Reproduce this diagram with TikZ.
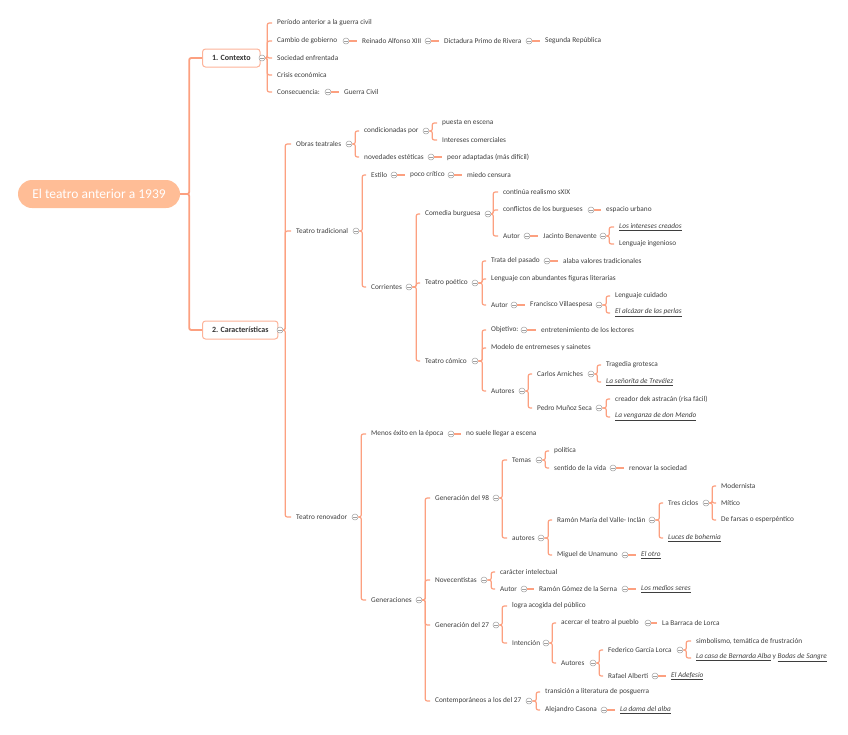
\documentclass[tikz,border=0pt]{standalone}
\usepackage{fontspec}
\setmainfont{Carlito}
\definecolor{linkc}{RGB}{252,160,128}
\definecolor{rootc}{RGB}{255,189,150}
\definecolor{txtc}{RGB}{62,62,62}
\definecolor{foldc}{RGB}{160,160,160}
\newcommand{\obra}[1]{\underline{\textit{#1}}}
\begin{document}
\begin{tikzpicture}[x=1pt,y=-1pt,
		item/.style={anchor=west,inner xsep=5pt,inner ysep=1pt,text=txtc,font=\fontsize{7.3}{9}\selectfont},
		fold/.style={circle,draw=foldc,fill=white,line width=0.5pt,minimum size=6pt,inner sep=0pt,
			path picture={\draw[foldc,line width=0.5pt] ([xshift=-1.8pt]path picture bounding box.center) -- ([xshift=1.8pt]path picture bounding box.center);}},
		link/.style={draw=linkc,line width=1.2pt,rounded corners=2pt},
		trunk/.style={draw=linkc,line width=1.8pt,rounded corners=2pt},
		topic/.style={anchor=west,draw=linkc!80,fill=white,line width=1pt,rounded corners=3pt,minimum height=18pt,inner xsep=9.5pt,text=black!80,font=\fontsize{8}{9}\selectfont\bfseries},
		root/.style={fill=rootc,text=white,rounded corners=14pt,minimum width=162pt,minimum height=28pt,font=\fontsize{13.5}{15}\selectfont}]
		\useasboundingbox (0,0) rectangle (848,734);
		% raiz y temas principales
		\node[root](root) at (99,194) {El teatro anterior a 1939};
		\node[topic](ctx) at (202,58) {1. Contexto};
		\node[fold](ctxf) at (262,58) {};
		\node[topic](car) at (202,330) {2. Características};
		\node[fold](carf) at (280,330) {};
		% contexto
		\node[item](c1) at (272,23) {Período anterior a la guerra civil};
		\node[item](c2) at (272,41) {Cambio de gobierno};
		\node[fold](c2f) at (346,41) {};
		\node[item](c2a) at (357,41) {Reinado Alfonso XIII};
		\node[fold](c2af) at (428,41) {};
		\node[item](c2b) at (439,41) {Dictadura Primo de Rivera};
		\node[fold](c2bf) at (529,41) {};
		\node[item](c2c) at (540,41) {Segunda República};
		\node[item](c3) at (272,58) {Sociedad enfrentada};
		\node[item](c4) at (272,75) {Crisis económica};
		\node[item](c5) at (272,92) {Consecuencia:};
		\node[fold](c5f) at (328,92) {};
		\node[item](c5a) at (339,92) {Guerra Civil};
		% obras teatrales
		\node[item](ob) at (291,144) {Obras teatrales};
		\node[fold](obf) at (349,144) {};
		\node[item](ob1) at (359,131) {condicionadas por};
		\node[fold](ob1f) at (426,131) {};
		\node[item](ob1a) at (437,123) {puesta en escena};
		\node[item](ob1b) at (437,140) {Intereses comerciales};
		\node[item](ob2) at (359,157) {novedades estéticas};
		\node[fold](ob2f) at (431,157) {};
		\node[item](ob2a) at (442,157) {peor adaptadas (más difícil)};
		% teatro tradicional
		\node[item](tt) at (291,231) {Teatro tradicional};
		\node[fold](ttf) at (356,231) {};
		\node[item](es) at (366,175) {Estilo};
		\node[fold](esf) at (394,175) {};
		\node[item](es1) at (405,175) {poco crítico};
		\node[fold](es1f) at (451,175) {};
		\node[item](es2) at (462,175) {miedo censura};
		\node[item](co) at (366,287) {Corrientes};
		\node[fold](cof) at (409,287) {};
		\node[item](cb) at (420,214) {Comedia burguesa};
		\node[fold](cbf) at (488,214) {};
		\node[item](cb1) at (498,192) {continúa realismo sXIX};
		\node[item](cb2) at (498,210) {conflictos de los burgueses};
		\node[fold](cb2f) at (591,210) {};
		\node[item](cb2a) at (601,210) {espacio urbano};
		\node[item](cb3) at (498,236) {Autor};
		\node[fold](cb3f) at (527,236) {};
		\node[item](jb) at (538,236) {Jacinto Benavente};
		\node[fold](jbf) at (603,236) {};
		\node[item](jb1) at (614,227) {\obra{Los intereses creados}};
		\node[item](jb2) at (614,244) {Lenguaje ingenioso};
		\node[item](tp) at (420,283) {Teatro poético};
		\node[fold](tpf) at (475,283) {};
		\node[item](tp1) at (486,261) {Trata del pasado};
		\node[fold](tp1f) at (547,261) {};
		\node[item](tp1a) at (558,261) {alaba valores tradicionales};
		\node[item](tp2) at (486,279) {Lenguaje con abundantes figuras literarias};
		\node[item](tp3) at (486,305) {Autor};
		\node[fold](tp3f) at (514,305) {};
		\node[item](fv) at (525,305) {Francisco Villaespesa};
		\node[fold](fvf) at (599,305) {};
		\node[item](fv1) at (610,296) {Lenguaje cuidado};
		\node[item](fv2) at (610,313) {\obra{El alcázar de las perlas}};
		\node[item](tc) at (420,361) {Teatro cómico};
		\node[fold](tcf) at (475,361) {};
		\node[item](tc1) at (486,330) {Objetivo:};
		\node[fold](tc1f) at (524,330) {};
		\node[item](tc1a) at (536,330) {entretenimiento de los lectores};
		\node[item](tc2) at (486,348) {Modelo de entremeses y sainetes};
		\node[item](tc3) at (486,391) {Autores};
		\node[fold](tc3f) at (522,391) {};
		\node[item](ca) at (532,374) {Carlos Arniches};
		\node[fold](caf) at (591,374) {};
		\node[item](ca1) at (601,365) {Tragedia grotesca};
		\node[item](ca2) at (601,382) {\obra{La señorita de Trevélez}};
		\node[item](pm) at (532,408) {Pedro Muñoz Seca};
		\node[fold](pmf) at (599,408) {};
		\node[item](pm1) at (610,399) {creador dek astracán (risa fácil)};
		\node[item](pm2) at (610,417) {\obra{La venganza de don Mendo}};
		% teatro renovador
		\node[item](tr) at (291,517) {Teatro renovador};
		\node[fold](trf) at (355,517) {};
		\node[item](me) at (366,434) {Menos éxito en la época};
		\node[fold](mef) at (451,434) {};
		\node[item](me1) at (461,434) {no suele llegar a escena};
		\node[item](ge) at (366,600) {Generaciones};
		\node[fold](gef) at (419,600) {};
		\node[item](g98) at (430,498) {Generación del 98};
		\node[fold](g98f) at (496,498) {};
		\node[item](tm) at (507,460) {Temas};
		\node[fold](tmf) at (539,460) {};
		\node[item](tm1) at (549,451) {política};
		\node[item](tm2) at (549,468) {sentido de la vida};
		\node[fold](tm2f) at (613,468) {};
		\node[item](tm2a) at (624,468) {renovar la sociedad};
		\node[item](au) at (507,538) {autores};
		\node[fold](auf) at (541,538) {};
		\node[item](vi) at (552,520) {Ramón María del Valle- Inclán};
		\node[fold](vif) at (652,520) {};
		\node[item](tci) at (663,503) {Tres ciclos};
		\node[fold](tcif) at (706,503) {};
		\node[item](tci1) at (716,486) {Modernista};
		\node[item](tci2) at (716,503) {Mítico};
		\node[item](tci3) at (716,520) {De farsas o esperpéntico};
		\node[item](vi2) at (663,538) {\obra{Luces de bohemia}};
		\node[item](un) at (552,555) {Miguel de Unamuno};
		\node[fold](unf) at (625,555) {};
		\node[item](un1) at (636,555) {\obra{El otro}};
		\node[item](nov) at (430,580) {Novecentistas};
		\node[fold](novf) at (484,580) {};
		\node[item](nov1) at (495,572) {carácter intelectual};
		\node[item](nov2) at (495,589) {Autor};
		\node[fold](nov2f) at (524,589) {};
		\node[item](rg) at (534,589) {Ramón Gómez de la Serna};
		\node[fold](rgf) at (625,589) {};
		\node[item](rg1) at (636,589) {\obra{Los medios seres}};
		\node[item](g27) at (430,625) {Generación del 27};
		\node[fold](g27f) at (496,625) {};
		\node[item](g271) at (507,606) {logra acogida del público};
		\node[item](int) at (507,643) {Intención};
		\node[fold](intf) at (546,643) {};
		\node[item](int1) at (556,623) {acercar el teatro al pueblo};
		\node[fold](int1f) at (648,623) {};
		\node[item](int1a) at (657,623) {La Barraca de Lorca};
		\node[item](int2) at (556,663) {Autores};
		\node[fold](int2f) at (593,663) {};
		\node[item](fg) at (603,650) {Federico García Lorca};
		\node[fold](fgf) at (680,650) {};
		\node[item](fg1) at (691,641) {simbolismo, temática de frustración};
		\node[item](fg2) at (691,658) {\obra{La casa de Bernarda Alba} y \obra{Bodas de Sangre}};
		\node[item](ra) at (603,676) {Rafael Alberti};
		\node[fold](raf) at (655,676) {};
		\node[item](ra1) at (666,676) {\obra{El Adefesio}};
		\node[item](ct) at (430,701) {Contemporáneos a los del 27};
		\node[fold](ctf) at (529,701) {};
		\node[item](ct1) at (540,692) {transición a literatura de posguerra};
		\node[item](ct2) at (540,710) {Alejandro Casona};
		\node[fold](ct2f) at (604,710) {};
		\node[item](ct2a) at (615,710) {\obra{La dama del alba}};
		% conexiones
		\foreach \t in {ctx,car} \draw[trunk] (root.east) -- ++(9,0) |- (\t.west);
		\foreach \c in {c1,c2,c3,c4,c5} \draw[link] (ctxf.east) -- ++(2,0) |- (\c.west);
		\foreach \c in {ob,tt,tr} \draw[link] (carf.east) -- ++(2,0) |- (\c.west);
		\foreach \c in {ob1,ob2} \draw[link] (obf.east) -- ++(3,0) |- (\c.west);
		\foreach \c in {ob1a,ob1b} \draw[link] (ob1f.east) -- ++(3,0) |- (\c.west);
		\foreach \c in {es,co} \draw[link] (ttf.east) -- ++(3,0) |- (\c.west);
		\foreach \c in {cb,tp,tc} \draw[link] (cof.east) -- ++(4,0) |- (\c.west);
		\foreach \c in {cb1,cb2,cb3} \draw[link] (cbf.east) -- ++(2,0) |- (\c.west);
		\foreach \c in {jb1,jb2} \draw[link] (jbf.east) -- ++(3,0) |- (\c.west);
		\foreach \c in {tp1,tp2,tp3} \draw[link] (tpf.east) -- ++(4,0) |- (\c.west);
		\foreach \c in {fv1,fv2} \draw[link] (fvf.east) -- ++(4,0) |- (\c.west);
		\foreach \c in {tc1,tc2,tc3} \draw[link] (tcf.east) -- ++(4,0) |- (\c.west);
		\foreach \c in {ca,pm} \draw[link] (tc3f.east) -- ++(3,0) |- (\c.west);
		\foreach \c in {ca1,ca2} \draw[link] (caf.east) -- ++(3,0) |- (\c.west);
		\foreach \c in {pm1,pm2} \draw[link] (pmf.east) -- ++(4,0) |- (\c.west);
		\foreach \c in {me,ge} \draw[link] (trf.east) -- ++(3,0) |- (\c.west);
		\foreach \c in {g98,nov,g27,ct} \draw[link] (gef.east) -- ++(3,0) |- (\c.west);
		\foreach \c in {tm,au} \draw[link] (g98f.east) -- ++(3,0) |- (\c.west);
		\foreach \c in {tm1,tm2} \draw[link] (tmf.east) -- ++(3,0) |- (\c.west);
		\foreach \c in {vi,un} \draw[link] (auf.east) -- ++(4,0) |- (\c.west);
		\foreach \c in {tci,vi2} \draw[link] (vif.east) -- ++(4,0) |- (\c.west);
		\foreach \c in {tci1,tci2,tci3} \draw[link] (tcif.east) -- ++(3,0) |- (\c.west);
		\foreach \c in {nov1,nov2} \draw[link] (novf.east) -- ++(4,0) |- (\c.west);
		\foreach \c in {g271,int} \draw[link] (g27f.east) -- ++(3,0) |- (\c.west);
		\foreach \c in {int1,int2} \draw[link] (intf.east) -- ++(3,0) |- (\c.west);
		\foreach \c in {fg,ra} \draw[link] (int2f.east) -- ++(3,0) |- (\c.west);
		\foreach \c in {fg1,fg2} \draw[link] (fgf.east) -- ++(3,0) |- (\c.west);
		\foreach \c in {ct1,ct2} \draw[link] (ctf.east) -- ++(4,0) |- (\c.west);
		\draw[link] (c2f.east) -- (c2a.west) (c2af.east) -- (c2b.west) (c2bf.east) -- (c2c.west) (c5f.east) -- (c5a.west);
		\draw[link] (ob2f.east) -- (ob2a.west) (esf.east) -- (es1.west) (es1f.east) -- (es2.west);
		\draw[link] (cb2f.east) -- (cb2a.west) (cb3f.east) -- (jb.west) (tp1f.east) -- (tp1a.west) (tp3f.east) -- (fv.west);
		\draw[link] (tc1f.east) -- (tc1a.west) (mef.east) -- (me1.west) (tm2f.east) -- (tm2a.west) (unf.east) -- (un1.west);
		\draw[link] (nov2f.east) -- (rg.west) (rgf.east) -- (rg1.west) (int1f.east) -- (int1a.west) (raf.east) -- (ra1.west) (ct2f.east) -- (ct2a.west);
	\end{tikzpicture}
\end{document}
